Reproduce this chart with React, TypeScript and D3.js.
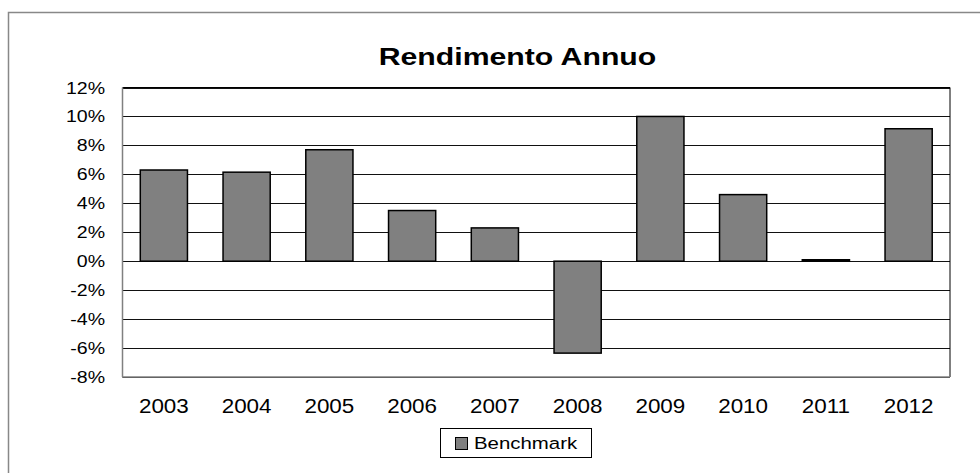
import React from "react";
import * as d3 from "d3";

const years = ["2003","2004","2005","2006","2007","2008","2009","2010","2011","2012"];
const benchmark = [6.3, 6.15, 7.7, 3.5, 2.3, -6.35, 10.0, 4.6, 0.1, 9.15];
const yTicks = [-8,-6,-4,-2,0,2,4,6,8,10,12];
const title = "Rendimento Annuo";
const seriesName = "Benchmark";

const W = 980, H = 473;
const plot = { left: 122.5, right: 950, top: 87.5, bottom: 377 };
const font = "Liberation Sans, Arial, Helvetica, sans-serif";

export default function App() {
  const x = d3.scaleBand<string>().domain(years).range([plot.left, plot.right]).paddingInner(0.43).paddingOuter(0.215);
  const y = d3.scaleLinear().domain([-8, 12]).range([plot.bottom, plot.top]);
  const step = (plot.right - plot.left) / years.length;
  return (
    <svg width={W} height={H} style={{ position: "absolute", left: 0, top: 0, fontFamily: font }}>
      <rect x={0} y={0} width={W} height={H} fill="#fff" />
      <path d={`M8.5,${H} V12.5 H${W}`} fill="none" stroke="#888" strokeWidth={1.5} />
      <text transform={`translate(${(378 + 657) / 2},65) scale(1.26,1)`} textAnchor="middle" fontSize={24} fontWeight="bold" fill="#000">{title}</text>
      {yTicks.map(t => (
        <g key={t}>
          <line x1={plot.left} x2={plot.right} y1={Math.round(y(t)) + 0.5} y2={Math.round(y(t)) + 0.5} stroke="#111" strokeWidth={1} />
          <text transform={`translate(105,${y(t) + 6}) scale(1.15,1)`} textAnchor="end" fontSize={17} fill="#000">{`${t}%`}</text>
        </g>
      ))}
      {benchmark.map((v, i) => {
        const bx = x(years[i])!;
        const y0 = y(Math.max(0, v)), y1 = y(Math.min(0, v));
        return <rect key={years[i]} x={bx} y={y0} width={x.bandwidth()} height={Math.max(y1 - y0, 0.5)} fill="#808080" stroke="#000" strokeWidth={1.5} />;
      })}
      <line x1={plot.left} x2={plot.right} y1={plot.top} y2={plot.top} stroke="#000" strokeWidth={1} />
      <line x1={plot.right} x2={plot.right} y1={plot.top} y2={plot.bottom} stroke="#000" strokeWidth={1} />
      <line x1={plot.left} x2={plot.left} y1={plot.top} y2={plot.bottom} stroke="#808080" strokeWidth={1.5} />
      <line x1={plot.left} x2={plot.right} y1={plot.bottom} y2={plot.bottom} stroke="#808080" strokeWidth={1.5} />
      {years.map((yr, i) => (
        <text key={yr} transform={`translate(${plot.left + step * (i + 0.5)},413) scale(1.15,1)`} textAnchor="middle" fontSize={19.5} fill="#000">{yr}</text>
      ))}
      <rect x={440.5} y={428.5} width={151} height={29} fill="#fff" stroke="#000" strokeWidth={1} />
      <rect x={455.5} y={437.5} width={12} height={12} fill="#808080" stroke="#000" strokeWidth={1} />
      <text transform={`translate(474,449) scale(1.2,1)`} fontSize={17} fill="#000">{seriesName}</text>
    </svg>
  );
}
